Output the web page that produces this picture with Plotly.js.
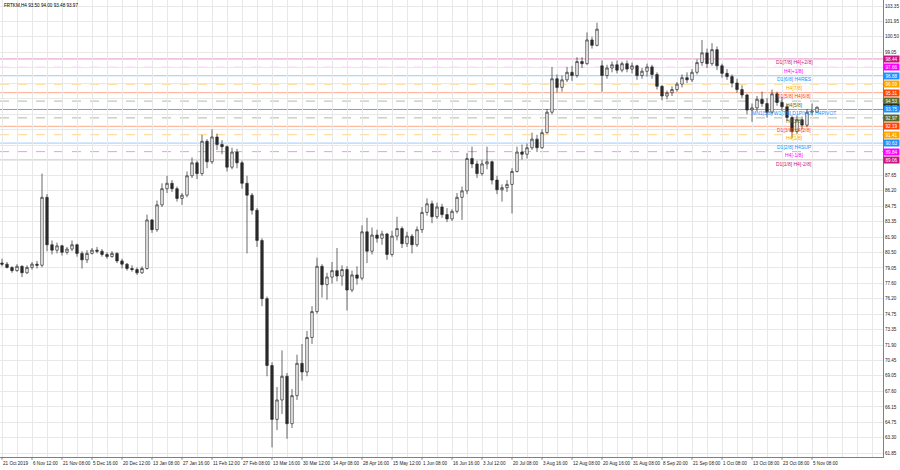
<!DOCTYPE html>
<html><head><meta charset="utf-8">
<script src="https://cdn.plot.ly/plotly-3.0.1.min.js"></script>
<style>html,body{margin:0;padding:0;background:#fff}#chart{width:900px;height:470px}</style>
</head><body><div id="chart"></div>
<script>
const titleText = 'FRTKM,H4 93.50 94.00 93.48 93.97';
const open = [79.5,79.4,79.1,78.8,79.2,78.6,79.1,79.4,79.3,85.6,81.2,80.7,81.1,80.5,80.8,81.2,80.4,79.8,80.4,80.7,80.6,80.3,80.1,80.4,79.7,79.4,79.0,78.9,78.6,79.0,
83.5,82.6,84.9,86.4,86.9,86.4,85.5,85.8,87.6,88.8,87.8,90.8,88.9,91.2,90.5,90.3,88.4,89.8,88.8,86.9,85.8,84.4,81.6,76.2,70.0,65.0,66.8,69.0,64.6,67.2,
70.2,69.4,72.6,75.0,79.2,77.5,78.2,78.8,78.3,78.9,77.0,78.4,78.1,82.4,80.6,82.1,81.8,82.2,80.3,82.0,82.7,81.3,82.0,81.2,82.6,84.2,85.0,83.8,84.7,84.0,
83.6,84.3,85.6,86.2,89.2,88.7,87.8,88.7,88.9,87.2,86.3,86.5,86.8,88.0,89.8,89.6,90.2,91.0,90.2,91.6,93.5,96.6,95.8,96.5,97.2,96.9,98.2,98.0,100.2,99.7,
97.8,96.9,97.6,97.9,97.4,98.0,97.5,97.8,96.9,97.3,97.7,97.0,95.9,95.0,95.3,95.6,96.1,96.7,96.5,97.2,98.1,99.0,98.0,99.3,97.8,97.1,96.8,96.2,95.6,95.1,
93.7,93.9,94.7,94.3,93.5,95.2,94.4,94.0,93.0,91.7,92.8,92.3,93.5,93.50];
const high = [79.9,79.6,79.2,79.4,79.3,79.3,79.6,79.7,87.8,85.9,81.6,81.4,81.2,81.0,81.6,81.3,80.6,80.7,80.9,81.0,80.8,80.5,80.6,80.5,79.9,79.5,79.3,79.1,79.2,84.0,
83.6,85.3,86.9,87.6,87.2,86.6,86.0,88.0,89.3,89.0,91.4,91.0,91.9,91.5,90.9,90.4,90.2,90.1,89.0,87.6,86.0,84.6,81.8,76.4,70.3,68.0,71.4,69.3,67.8,71.0,
72.0,73.2,75.5,80.0,79.4,78.6,79.6,80.9,79.3,79.2,78.8,79.2,83.0,83.7,82.8,82.6,82.5,82.3,82.5,83.8,82.9,82.4,82.2,82.9,84.7,85.5,85.3,85.1,85.0,84.6,
84.5,86.0,86.6,89.7,90.3,89.0,89.1,90.3,89.0,87.6,86.8,87.2,88.3,90.3,90.5,90.6,91.6,91.4,91.9,93.8,97.7,97.0,96.9,97.7,97.8,98.6,98.6,100.9,100.5,101.8,
98.3,97.9,98.2,98.3,98.2,98.3,98.1,97.9,97.6,98.0,97.9,97.2,96.0,95.5,95.9,96.3,97.0,97.2,97.5,98.4,100.2,99.4,99.9,99.6,98.0,97.5,97.0,96.6,96.0,95.2,
94.3,95.0,95.4,94.8,95.6,95.4,94.9,94.2,93.2,93.2,93.1,93.8,94.3,94.00];
const low = [79.2,79.0,78.6,78.7,78.2,78.5,78.9,79.0,79.1,80.6,80.3,80.4,80.2,80.3,80.6,80.1,79.0,79.5,80.3,80.4,80.1,79.9,80.0,79.5,79.0,78.8,78.7,78.4,78.5,78.9,
82.3,82.4,84.7,86.0,86.1,85.2,84.9,85.6,87.4,87.3,87.6,88.3,88.7,90.0,89.6,88.0,88.2,88.3,86.4,80.4,84.0,81.0,75.5,69.0,62.4,64.0,65.5,63.2,64.2,66.8,
68.6,69.0,72.0,74.8,76.3,76.1,77.6,77.8,77.4,75.1,76.8,77.5,77.9,79.5,80.3,81.4,81.2,79.8,80.1,81.6,80.9,81.0,80.4,81.0,82.3,83.9,83.2,83.6,83.7,83.3,
83.4,84.1,83.5,85.9,88.3,87.4,87.6,88.2,86.8,85.9,85.2,86.1,84.1,87.9,89.1,89.2,90.0,89.8,90.1,91.5,93.3,95.3,95.4,96.3,96.4,96.7,97.6,97.9,99.4,99.6,
95.4,96.6,97.2,97.1,97.2,97.2,97.1,96.5,96.6,96.8,96.6,95.6,94.6,94.7,95.0,95.4,95.8,96.2,96.3,97.0,97.8,97.6,97.8,97.4,96.7,96.5,95.8,95.3,94.8,93.3,
92.6,93.6,94.0,93.0,93.3,94.1,93.6,92.7,91.1,91.5,91.9,92.1,93.2,93.48];
const close = [79.4,79.1,78.8,79.2,78.6,79.1,79.4,79.3,85.6,81.2,80.7,81.1,80.5,80.8,81.2,80.4,79.8,80.4,80.7,80.6,80.3,80.1,80.4,79.7,79.4,79.0,78.9,78.6,79.0,83.5,
82.6,84.9,86.4,86.9,86.4,85.5,85.8,87.6,88.8,87.8,90.8,88.9,91.2,90.5,90.3,88.4,89.8,88.8,86.9,85.8,84.4,81.6,76.2,70.0,65.0,66.8,69.0,64.6,67.2,70.2,
69.4,72.6,75.0,79.2,77.5,78.2,78.8,78.3,78.9,77.0,78.4,78.1,82.4,80.6,82.1,81.8,82.2,80.3,82.0,82.7,81.3,82.0,81.2,82.6,84.2,85.0,83.8,84.7,84.0,83.6,
84.3,85.6,86.2,89.2,88.7,87.8,88.7,88.9,87.2,86.3,86.5,86.8,88.0,89.8,89.6,90.2,91.0,90.2,91.6,93.5,96.6,95.8,96.5,97.2,96.9,98.2,98.0,100.2,99.7,101.2,
96.9,97.6,97.9,97.4,98.0,97.5,97.8,96.9,97.3,97.7,97.0,95.9,95.0,95.3,95.6,96.1,96.7,96.5,97.2,98.1,99.0,98.0,99.3,97.8,97.1,96.8,96.2,95.6,95.1,93.7,
93.9,94.7,94.3,93.5,95.2,94.4,94.0,93.0,91.7,92.8,92.3,93.5,93.6,93.97];
const dateLabels = ['21 Oct 2019','6 Nov 12:00','21 Nov 08:00','5 Dec 16:00','20 Dec 12:00','13 Jan 08:00','27 Jan 16:00','11 Feb 12:00','27 Feb 08:00','13 Mar 16:00','30 Mar 12:00','14 Apr 08:00','28 Apr 16:00','15 May 12:00','1 Jun 08:00','16 Jun 16:00','3 Jul 12:00','20 Jul 08:00','3 Aug 16:00','12 Aug 08:00','20 Aug 16:00','31 Aug 08:00','8 Sep 20:00','21 Sep 08:00','1 Oct 08:00','13 Oct 08:00','23 Oct 08:00','5 Nov 08:00'];
const priceTicks = [103.35,101.95,100.50,99.05,97.60,96.20,94.75,93.30,91.85,90.45,89.00,87.65,86.20,84.75,83.35,81.90,80.50,79.05,77.60,76.20,74.75,73.35,71.90,70.45,69.05,67.60,66.15,64.75,63.30,61.85];
const hiddenTicks = [97.60,96.20,94.75,93.30,91.85,90.45,89.00];
const levelValues = [98.44,97.66,96.88,96.09,95.31,94.53,93.75,92.97,92.19,91.41,90.63,89.84,89.06];
const levelNames = ['D1[7/8] H4[+2/8]','H4[+1/8]','D1[6/8] H4RES','H4[7/8]','D1[5/8] H4[6/8]','H4[5/8]','MN1[5/8] W1[7/8] D1PIVOT H4PIVOT','H4[3/8]','D1[3/8] H4[2/8]','H4[1/8]','D1[2/8] H4SUP','H4[-1/8]','D1[1/8] H4[-2/8]'];
const levelColors = ['#C71585','#FF00FF','#1E90FF','#FFA500','#FF4500','#556B2F','#1E90FF','#556B2F','#FF4500','#FFA500','#1E90FF','#FF00FF','#C71585'];
const levelDash = ['solid','dash','solid','dash','solid','dash','solid','dash','solid','dash','solid','dash','solid'];
const lastPrice = 93.97;

const idx = close.map((_, i) => i);
const FONT = 'Liberation Sans, Arial, sans-serif';
const BARS_PER_LABEL = 6;

const xGridVals = [];
for (let j = 0; j <= 58; j++) xGridVals.push(3 * j);

const shapes = levelValues.map((v, k) => ({
  type: 'line', xref: 'paper', x0: 0, x1: 1, yref: 'y', y0: v, y1: v,
  line: {color: levelColors[k], width: 1, dash: levelDash[k]},
  opacity: k === 6 ? 0.75 : 0.45, layer: 'below'
}));
// small tick marks under date labels
dateLabels.forEach((d, k) => {
  shapes.push({type: 'line', xref: 'x', yref: 'paper', x0: k * BARS_PER_LABEL, x1: k * BARS_PER_LABEL,
    y0: 0, y1: -0.006, line: {color: '#808080', width: 1}});
});

const annotations = [];
annotations.push({xref: 'paper', yref: 'paper', x: 0, y: 1, xanchor: 'left', yanchor: 'top', xshift: 2, yshift: -1,
  text: titleText, showarrow: false, font: {family: FONT, size: 4.6, color: '#000'}});
dateLabels.forEach((d, k) => {
  annotations.push({xref: 'x', yref: 'paper', x: k * BARS_PER_LABEL, y: 0, xanchor: 'left', yanchor: 'top',
    xshift: 0, yshift: -3, text: d, showarrow: false, borderpad: 0,
    font: {family: FONT, size: 4.6, color: '#222'}});
});
levelValues.forEach((v, k) => {
  annotations.push({xref: 'x', yref: 'y', x: 158.4, y: v, xanchor: 'center', yanchor: 'top',
    text: levelNames[k], showarrow: false, font: {family: FONT, size: 5, color: levelColors[k]}, borderpad: 0, yshift: 0.5});
});
annotations.push({xref: 'paper', yref: 'y', x: 1, y: lastPrice, xanchor: 'left', yanchor: 'middle',
  text: lastPrice.toFixed(2), showarrow: false, bgcolor: '#000', width: 15, height: 6, borderpad: 0,
  font: {family: FONT, size: 4.6, color: '#fff'}});
levelValues.forEach((v, k) => {
  annotations.push({xref: 'paper', yref: 'y', x: 1, y: v, xanchor: 'left', yanchor: 'middle',
    text: v.toFixed(2), showarrow: false, bgcolor: levelColors[k], width: 15, height: 6, borderpad: 0,
    font: {family: FONT, size: 4.6, color: '#fff'}});
});

const trace = {
  type: 'candlestick', x: idx, open: open, high: high, low: low, close: close,
  increasing: {line: {color: '#2a2a2a', width: 0.7}, fillcolor: '#ffffff'},
  decreasing: {line: {color: '#2a2a2a', width: 0.7}, fillcolor: '#2a2a2a'},
  whiskerwidth: 0, hoverinfo: 'none'
};

const layout = {
  width: 900, height: 470,
  margin: {l: 0, r: 17, t: 0, b: 13, pad: 0},
  paper_bgcolor: '#fff', plot_bgcolor: '#fff', showlegend: false,
  xaxis: {range: [-0.4, 176.2], tickmode: 'array', tickvals: xGridVals, showticklabels: false,
    showgrid: true, gridcolor: '#e8e8e8', gridwidth: 1, zeroline: false,
    showline: true, mirror: true, linecolor: '#808080', linewidth: 1, ticks: '',
    rangeslider: {visible: false}, fixedrange: true},
  yaxis: {side: 'right', range: [61.51, 103.907], tickmode: 'array', tickvals: priceTicks,
    ticktext: priceTicks.map(v => hiddenTicks.includes(v) ? '' : v.toFixed(2)),
    showgrid: true, gridcolor: '#e8e8e8', gridwidth: 1, zeroline: false,
    showline: true, mirror: true, linecolor: '#808080', linewidth: 1, ticks: '',
    tickfont: {family: FONT, size: 4.6, color: '#222'}, fixedrange: true},
  shapes: shapes, annotations: annotations
};

Plotly.newPlot('chart', [trace], layout, {staticPlot: true, displayModeBar: false});
</script></body></html>
